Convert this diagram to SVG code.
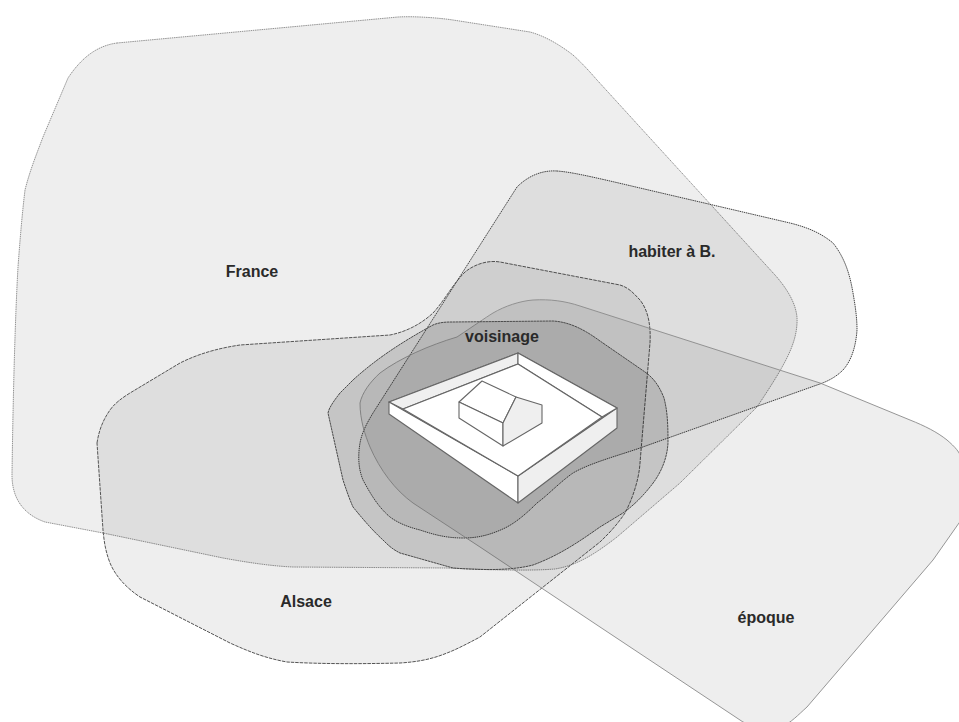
<svg xmlns="http://www.w3.org/2000/svg" width="959" height="722" viewBox="0 0 959 722">
<style>
.z{fill:#000;fill-opacity:.068;stroke:#555;stroke-width:1}
.w{stroke:#666;stroke-width:1.1;stroke-linejoin:round;fill:#fff}
.g{fill:#efefef}
.t{font-family:"Liberation Sans",Arial,sans-serif;font-size:16px;font-weight:bold;fill:#2a2a2a;text-anchor:middle}
</style>
<rect width="959" height="722" fill="#fff"/>
<g id="connectors"/>
<g id="france">
<path class="z" style="stroke:#888;stroke-width:.9;stroke-dasharray:1.5 .7" d="M117 43 L398 17 C415 16 440 18 453 20 L530 32 C545 36 560 45 573 55 C582 63 590 72 597 80 L775 275 C790 292 798 308 797 323 C796 345 785 365 757 407 L680 483 L617 537 C600 550 580 565 555 569 C530 571 490 570 447 568 L293 567 C270 566 245 562 223 558 L103 533 L45 522 C25 515 12 500 12 475 C13 400 15 320 18 267 C20 240 22 215 25 190 C30 170 37 153 43 137 L68 78 C80 60 95 46 117 43 Z"/>
<text class="t" x="252" y="277">France</text>
</g>
<g id="alsace">
<path class="z" style="stroke-dasharray:3.5 1" d="M97 443 C99 430 103 420 110 410 C115 403 122 398 130 393 L180 363 C200 353 220 348 240 345 L390 335 C405 332 420 325 433 313 C445 300 452 285 465 272 C475 264 488 260 500 262 L620 285 C630 288 635 295 640 300 C648 310 651 325 650 343 L640 463 C639 480 632 500 625 513 C615 528 605 537 600 542 L480 637 C465 645 455 650 447 653 C430 660 415 662 400 663 C360 664 320 664 287 662 C265 658 250 652 230 643 L140 597 C125 587 115 575 110 563 C105 550 104 540 103 530 Z"/>
<text class="t" x="306" y="607">Alsace</text>
</g>
<g id="habiter">
<path class="z" style="stroke:#444;stroke-dasharray:1.5 .7" d="M557 171 C570 172 585 175 640 188 L790 223 C810 228 822 234 833 243 C845 258 850 275 853 293 C856 310 857 320 857 330 C856 345 852 360 843 370 C835 378 826 382 817 385 L640 448 C620 455 590 463 573 473 C560 482 548 495 537 503 C525 515 515 523 505 528 C490 535 478 538 463 538 C445 538 432 534 420 530 C408 527 398 523 390 517 C378 507 370 493 363 480 C358 468 358 455 360 443 C362 432 367 423 373 413 L517 187 C528 176 542 170 557 171 Z"/>
<text class="t" x="672" y="257">habiter à B.</text>
</g>
<g id="epoque">
<path class="z" style="stroke:#8a8a8a;stroke-width:.9" d="M533 300 C550 299 565 301 580 306 L820 383 L910 420 C925 426 937 432 947 440 C955 447 960 452 962 460 L975 500 L959 523 L933 560 L807 707 C798 715 792 722 780 728 L760 728 L743 722 L600 627 L480 547 L413 503 C395 490 380 470 370 447 C365 435 360 420 360 403 C362 393 370 382 380 373 C400 358 430 345 457 337 C475 325 485 318 493 313 C505 306 520 301 533 300 Z"/>
<text class="t" x="766" y="623">époque</text>
</g>
<g id="voisinage">
<path class="z" style="fill-opacity:.11;stroke:#4a4a4a;stroke-dasharray:2.5 .5" d="M328 413 C329 408 333 402 340 393 L353 380 C375 360 400 343 433 325 C440 322 447 322 453 322 L553 321 C570 322 585 330 600 341 L645 372 C655 379 660 388 664 398 C667 410 668 420 668 443 C667 460 660 475 650 487 C642 497 633 506 623 513 L600 527 C580 541 560 555 533 565 C510 571 480 570 453 568 L400 553 C392 549 388 545 383 540 C372 530 362 518 353 507 C349 498 346 489 343 480 Z"/>
<text class="t" x="502" y="342">voisinage</text>
</g>
<g id="maison">
<path class="w" d="M389 402 L518 353 L617 408 L518 476 Z"/>
<path class="w g" d="M389 402 L518 353 L518 364 L403 409 Z"/>
<path class="w" d="M389 402 L518 476 L518 503 L389 414 Z"/>
<path class="w g" d="M518 476 L617 408 L617 428 L518 503 Z"/>
<path class="w" d="M518 353 L518 364 L602 417 L617 408 Z"/>
<path class="w" d="M403 409 L518 364 L602 417 L518 476 Z"/>
<path class="w" d="M459 402 L482 381 L516 397 L503 423 Z"/>
<path class="w" d="M459 402 L503 423 L503 446 L459 418 Z"/>
<path class="w g" d="M516 397 L542 405 L542 423 L503 446 L503 423 Z"/>
</g>
</svg>
